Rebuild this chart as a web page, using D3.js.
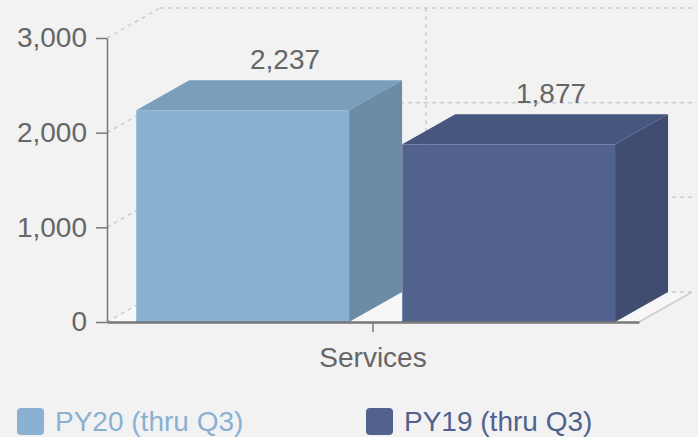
<!DOCTYPE html>
<html>
<head>
<meta charset="utf-8">
<style>
  body { margin: 0; background: #f2f2f2; font-family: "Liberation Sans", Arial, sans-serif; }
  svg { display: block; }
</style>
<script src="https://d3js.org/d3.v7.min.js"></script>
</head>
<body>
<div id="chart"></div>
<script>
// data
var categories = ["Services"];
var seriesNames = ["PY20 (thru Q3)", "PY19 (thru Q3)"];
var seriesValues = [2237, 1877];
var yTicks = [0, 1000, 2000, 3000];

var colors = [
  { front: "#8ab0d2", top: "#7a9fbd", side: "#6c8ca6" },
  { front: "#50628d", top: "#47567e", side: "#404d70" }
];

var W = 698, H = 437;
var plotLeft = 107, plotRight = 639, plotTop = 38, plotBottom = 322;
var dx = 53, dy = 30;   // 3d depth offset
var fontSize = 28;

var svg = d3.select("#chart").append("svg")
  .attr("width", W).attr("height", H);

var y = d3.scaleLinear().domain([0, 3000]).range([plotBottom, plotTop]);
var x0 = d3.scaleBand().domain(categories).range([plotLeft, plotRight]).padding(0);
var x1 = d3.scaleBand().domain(seriesNames).range([0, x0.bandwidth()])
  .paddingInner(0.2).paddingOuter(0.1).align(0.55);

var dash = "4,4";

// floor
svg.append("polygon")
  .attr("points", [[plotLeft, plotBottom], [plotRight, plotBottom], [plotRight + dx, plotBottom - dy], [plotLeft + dx, plotBottom - dy]].join(" "))
  .attr("fill", "#f7f7f7");
svg.append("line")
  .attr("x1", plotRight).attr("y1", plotBottom).attr("x2", plotRight + dx).attr("y2", plotBottom - dy)
  .attr("stroke", "#cccccc").attr("stroke-width", 1.5);

// grid on back wall and left wall
var grid = svg.append("g").attr("stroke", "#cccccc").attr("stroke-dasharray", dash).attr("stroke-width", 1.5);
yTicks.forEach(function(t) {
  grid.append("line")
    .attr("x1", plotLeft + dx).attr("x2", plotRight + dx + 2)
    .attr("y1", y(t) - dy).attr("y2", y(t) - dy);
  grid.append("line")
    .attr("x1", plotLeft).attr("y1", y(t))
    .attr("x2", plotLeft + dx).attr("y2", y(t) - dy);
});
categories.forEach(function(c) {
  var cx = x0(c) + x0.bandwidth() / 2 + dx;
  grid.append("line")
    .attr("x1", cx).attr("x2", cx)
    .attr("y1", plotTop - dy).attr("y2", plotBottom - dy);
});

// bars
var bars = svg.append("g");
seriesNames.forEach(function(s, i) {
  var v = seriesValues[i];
  var bx = x0(categories[0]) + x1(s);
  var bw = x1.bandwidth();
  var yt = y(v), yb = y(0);
  var g = bars.append("g");
  g.append("polygon")
    .attr("points", [[bx, yt], [bx + dx, yt - dy], [bx + bw + dx, yt - dy], [bx + bw, yt]].join(" "))
    .attr("fill", colors[i].top);
  g.append("polygon")
    .attr("points", [[bx + bw, yt], [bx + bw + dx, yt - dy], [bx + bw + dx, yb - dy], [bx + bw, yb]].join(" "))
    .attr("fill", colors[i].side);
  g.append("rect")
    .attr("x", bx).attr("y", yt).attr("width", bw).attr("height", yb - yt)
    .attr("fill", colors[i].front);
  g.append("text")
    .attr("x", bx + bw / 2 + dx * 0.8)
    .attr("y", yt - dy - 11)
    .attr("text-anchor", "middle")
    .attr("font-size", fontSize)
    .attr("fill", "#666666")
    .text(d3.format(",")(v));
});

// axes
var yAxis = svg.append("g")
  .attr("transform", "translate(" + plotLeft + ",0)")
  .call(d3.axisLeft(y).tickValues(yTicks).tickFormat(d3.format(",")).tickSize(11).tickSizeOuter(0).tickPadding(9));
yAxis.selectAll("path, line").attr("stroke", "#777777").attr("stroke-width", 1.5);
yAxis.selectAll("text").attr("font-size", fontSize).attr("fill", "#666666").attr("font-family", "Liberation Sans, Arial, sans-serif");

var xAxis = svg.append("g")
  .attr("transform", "translate(0," + plotBottom + ")")
  .call(d3.axisBottom(x0).tickSize(10).tickSizeOuter(0).tickPadding(15));
xAxis.select("path").attr("stroke", "#777777").attr("stroke-width", 2.5);
xAxis.selectAll("line").attr("stroke", "#777777").attr("stroke-width", 1.5);
xAxis.selectAll("text").attr("font-size", fontSize).attr("fill", "#666666").attr("font-family", "Liberation Sans, Arial, sans-serif");

// legend
var legendX = [17, 366];
var legend = svg.append("g");
seriesNames.forEach(function(s, i) {
  legend.append("rect")
    .attr("x", legendX[i]).attr("y", 408).attr("width", 27).attr("height", 27)
    .attr("rx", 4).attr("fill", colors[i].front);
  legend.append("text")
    .attr("x", legendX[i] + 38).attr("y", 431)
    .attr("font-size", fontSize)
    .attr("fill", colors[i].front)
    .text(s);
});
</script>
</body>
</html>
